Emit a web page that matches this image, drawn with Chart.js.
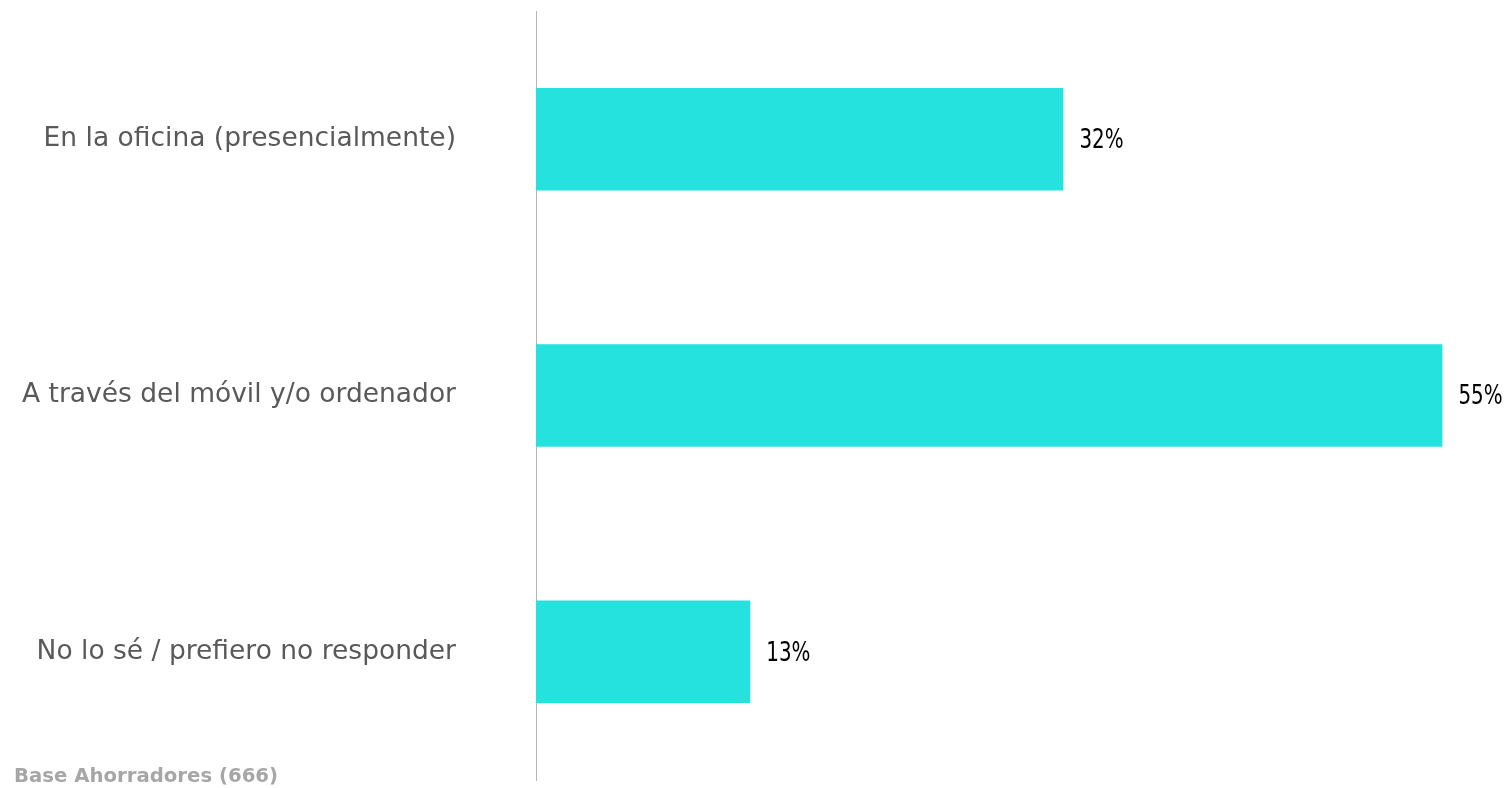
<!DOCTYPE html>
<html>
<head>
<meta charset="utf-8">
<script src="https://cdn.jsdelivr.net/npm/chart.js@4"></script>
<style>
    html, body { margin: 0; padding: 0; background: #fff; }
    #wrap { position: relative; width: 1510px; height: 788px; }
</style>
</head>
<body>
<div id="wrap"><canvas id="myChart" width="1510" height="788"></canvas></div>
<script>
    let categories = ['En la oficina (presencialmente)', 'A través del móvil y/o ordenador', 'No lo sé / prefiero no responder'];
    let values = [32, 55, 13];
    let footNote = 'Base Ahorradores (666)';

    // value labels at the end of each bar + footnote
    let valueLabels = {
        id: 'valueLabels',
        afterDatasetsDraw: function (chart) {
            let ctx = chart.ctx;
            let meta = chart.getDatasetMeta(0);
            meta.data.forEach(function (bar, i) {
                ctx.save();
                // narrow look: squeeze the condensed font a bit more
                ctx.translate(bar.x + 16, bar.y + 2);
                ctx.scale(0.85, 1);
                ctx.font = '26px "DejaVu Sans Condensed", "DejaVu Sans"';
                ctx.fillStyle = '#000';
                ctx.textAlign = 'left';
                ctx.textBaseline = 'middle';
                ctx.fillText(values[i] + '%', 0, 0);
                ctx.restore();
            });
        },
        afterDraw: function (chart) {
            let ctx = chart.ctx;
            ctx.save();
            ctx.font = 'bold 19.7px "DejaVu Sans"';
            ctx.fillStyle = '#a6a6a6';
            ctx.textAlign = 'left';
            ctx.textBaseline = 'alphabetic';
            ctx.fillText(footNote, 14, 782);
            ctx.restore();
        }
    };

    let ctx = document.getElementById('myChart');
    let myChart = new Chart(ctx, {
        type: 'bar',
        data: {
            labels: categories,
            datasets: [{
                data: values,
                backgroundColor: '#26e2de',
                borderWidth: 0,
                categoryPercentage: 0.8,
                barPercentage: 0.5
            }]
        },
        plugins: [valueLabels],
        options: {
            indexAxis: 'y',
            responsive: false,
            animation: false,
            layout: {padding: {top: 11, bottom: 8, left: 0, right: 0}},
            plugins: {
                legend: {display: false},
                tooltip: {enabled: false}
            },
            scales: {
                x: {
                    display: false,
                    min: 0,
                    max: 59.1
                },
                y: {
                    afterFit: function (scale) {
                        scale.width = 536;
                        scale.paddingTop = 0;
                        scale.paddingBottom = 0;
                    },
                    grid: {display: false, drawTicks: false},
                    border: {display: true, color: '#b3b3b3', width: 1},
                    ticks: {
                        padding: 80,
                        color: '#595959',
                        font: {family: '"DejaVu Sans"', size: 26.5}
                    }
                }
            }
        }
    });
</script>
</body>
</html>
